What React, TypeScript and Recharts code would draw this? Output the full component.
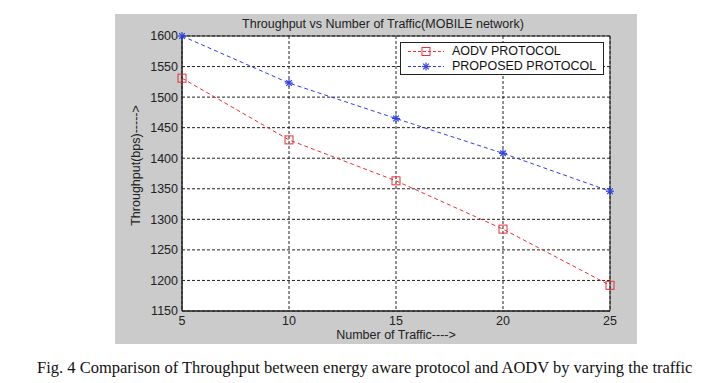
import React from 'react';
import {
  LineChart,
  Line,
  XAxis,
  YAxis,
  CartesianGrid,
  ReferenceArea,
} from 'recharts';

const traffic = [5, 10, 15, 20, 25];
const aodvValues = [1531, 1430, 1363, 1284, 1192];
const proposedValues = [1600, 1523, 1465, 1408, 1346];
const xTicks = [5, 10, 15, 20, 25];
const yTicks = [1150, 1200, 1250, 1300, 1350, 1400, 1450, 1500, 1550, 1600];
const seriesNames = ['AODV PROTOCOL', 'PROPOSED PROTOCOL'];
const titleText = 'Throughput vs Number of Traffic(MOBILE network)';
const xLabel = 'Number of Traffic---->';
const yLabel = 'Throughput(bps)----->';
const caption =
  'Fig. 4 Comparison of Throughput between energy aware protocol and AODV by varying the traffic';

const data = traffic.map((x, i) => ({
  x,
  aodv: aodvValues[i],
  proposed: proposedValues[i],
}));

const RED = '#e8303a';
const BLUE = '#2f3fe6';
const FONT = 'Arial, "Liberation Sans", sans-serif';

const SquareDot = (props: any) => {
  const { cx, cy, index } = props;
  if (cx == null || cy == null) return null;
  return (
    <rect
      key={`sq-${index}`}
      x={cx - 4}
      y={cy - 4}
      width={8}
      height={8}
      fill="none"
      stroke={RED}
      strokeWidth={1}
    />
  );
};

const StarDot = (props: any) => {
  const { cx, cy, index } = props;
  if (cx == null || cy == null) return null;
  const r = 4;
  const d = 2.8;
  return (
    <g key={`st-${index}`} stroke={BLUE} strokeWidth={1.2}>
      <line x1={cx - r} y1={cy} x2={cx + r} y2={cy} />
      <line x1={cx} y1={cy - r} x2={cx} y2={cy + r} />
      <line x1={cx - d} y1={cy - d} x2={cx + d} y2={cy + d} />
      <line x1={cx - d} y1={cy + d} x2={cx + d} y2={cy - d} />
    </g>
  );
};

const LegendBox = () => (
  <div
    style={{
      position: 'absolute',
      left: 285,
      top: 28,
      width: 204,
      height: 33,
      boxSizing: 'border-box',
      border: '1px solid #222',
      background: '#fff',
      fontFamily: FONT,
      fontSize: 12.5,
      color: '#111',
    }}
  >
    {seriesNames.map((name, i) => (
      <div
        key={name}
        style={{
          position: 'absolute',
          left: 0,
          top: 1 + i * 14.5,
          height: 15,
          width: 204,
          display: 'flex',
          alignItems: 'center',
        }}
      >
        <svg width={44} height={15} style={{ marginLeft: 5 }}>
          <line
            x1={2}
            y1={7.5}
            x2={38}
            y2={7.5}
            stroke={i === 0 ? RED : BLUE}
            strokeDasharray="3 2"
          />
          {i === 0 ? (
            <SquareDot cx={20} cy={7.5} index={0} />
          ) : (
            <StarDot cx={20} cy={7.5} index={0} />
          )}
        </svg>
        <span style={{ marginLeft: 2, lineHeight: '15px' }}>{name}</span>
      </div>
    ))}
  </div>
);

const YLabelContent = (props: any) => {
  const { viewBox } = props;
  const cx = viewBox.x + 21;
  const cy = viewBox.y + viewBox.height / 2 - 8;
  return (
    <text
      x={cx}
      y={cy}
      transform={`rotate(-90 ${cx} ${cy})`}
      textAnchor="middle"
      dominantBaseline="central"
      fontFamily={FONT}
      fontSize={12.5}
      fill="#222"
    >
      {yLabel}
    </text>
  );
};

export default function App() {
  return (
    <div
      style={{
        position: 'absolute',
        left: 0,
        top: 0,
        width: 708,
        height: 383,
        background: '#fff',
        fontFamily: FONT,
      }}
    >
      <div
        style={{
          position: 'absolute',
          left: 115,
          top: 14,
          width: 522,
          height: 330,
          background: '#cbcbcb',
        }}
      >
        <div
          style={{
            position: 'absolute',
            left: 0,
            top: 3,
            width: 522,
            paddingLeft: 14,
            boxSizing: 'border-box',
            textAlign: 'center',
            fontSize: 12.5,
            color: '#222',
            fontFamily: FONT,
          }}
        >
          {titleText}
        </div>
        <LineChart
          width={522}
          height={330}
          data={data}
          margin={{ top: 22, right: 27, bottom: 0, left: 0 }}
        >
          <CartesianGrid
            fill="#fff"
            stroke="#222"
            strokeDasharray="3 2"
            horizontalValues={yTicks}
            verticalValues={xTicks}
          />
          <XAxis
            dataKey="x"
            type="number"
            domain={[5, 25]}
            ticks={xTicks}
            height={33}
            tickSize={0}
            tickMargin={5}
            axisLine={{ stroke: '#222' }}
            tick={{ fill: '#222', fontSize: 12.5, fontFamily: FONT }}
            label={{
              value: xLabel,
              position: 'insideBottom',
              offset: 5,
              fill: '#222',
              fontSize: 12.5,
              fontFamily: FONT,
            }}
          />
          <YAxis
            type="number"
            domain={[1150, 1600]}
            ticks={yTicks}
            width={67}
            tickSize={0}
            tickMargin={4}
            axisLine={{ stroke: '#222' }}
            tick={{ fill: '#222', fontSize: 12.5, fontFamily: FONT }}
            label={{ content: YLabelContent }}
          />
          <ReferenceArea
            x1={5}
            x2={25}
            y1={1150}
            y2={1600}
            fill="none"
            fillOpacity={0}
            stroke="#222"
            strokeWidth={1}
          />
          <Line
            dataKey="aodv"
            name={seriesNames[0]}
            stroke={RED}
            strokeWidth={1}
            strokeDasharray="4 3"
            dot={SquareDot}
            activeDot={false}
            isAnimationActive={false}
          />
          <Line
            dataKey="proposed"
            name={seriesNames[1]}
            stroke={BLUE}
            strokeWidth={1}
            strokeDasharray="4 3"
            dot={StarDot}
            activeDot={false}
            isAnimationActive={false}
          />
        </LineChart>
        <LegendBox />
      </div>
      <div
        style={{
          position: 'absolute',
          left: 37,
          top: 358,
          lineHeight: 'normal',
          fontFamily: '"Times New Roman", "Liberation Serif", serif',
          fontSize: 16.5,
          color: '#111',
          whiteSpace: 'nowrap',
        }}
      >
        {caption}
      </div>
    </div>
  );
}
